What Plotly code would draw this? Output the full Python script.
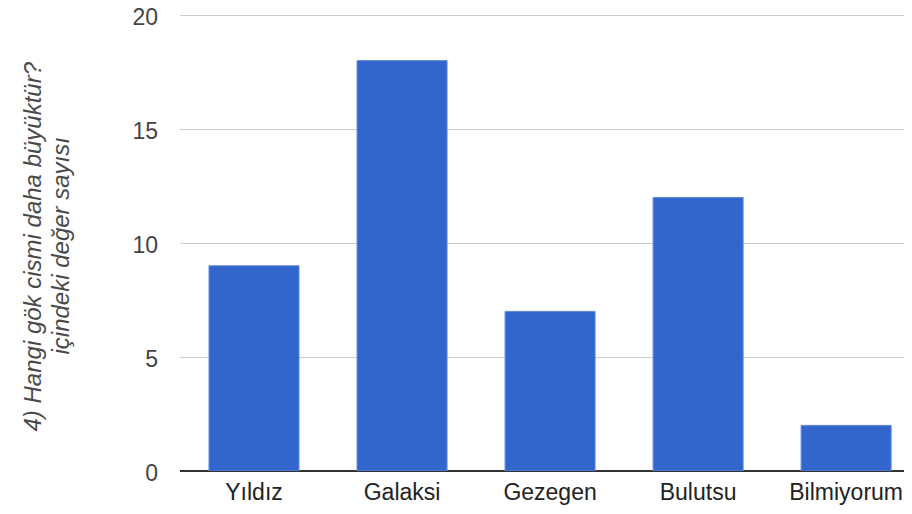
import plotly.graph_objects as go

categories = ["Yıldız", "Galaksi", "Gezegen", "Bulutsu", "Bilmiyorum"]
values = [9, 18, 7, 12, 2]
y_ticks = [0, 5, 10, 15, 20]
title_lines = ["4) Hangi gök cismi daha büyüktür?", "içindeki değer sayısı"]

fig = go.Figure()
fig.add_trace(go.Bar(
    x=categories, y=values,
    marker=dict(color="#3366cc", line=dict(color="#5f87d8", width=1)),
    width=0.608,
))

font_family = "Arial, Liberation Sans, sans-serif"
# page body has 8px margin; figure sized to fill the rest of the 912x514 window
fig.update_layout(
    width=904, height=506,
    margin=dict(l=172, r=0, t=2, b=43, autoexpand=False),
    plot_bgcolor="white", paper_bgcolor="white",
    showlegend=False,
    font=dict(family=font_family, size=23, color="#444444"),
    xaxis=dict(
        range=[-0.5, 4.445], showgrid=False, zeroline=False, automargin=False,
        showline=False, ticks="", ticklabelstandoff=5,
        tickfont=dict(size=23, color="#222222"), ticklabeloverflow="allow",
    ),
    yaxis=dict(
        range=[0, 20.22], tickvals=y_ticks, showgrid=True, gridcolor="#cccccc",
        gridwidth=1, zeroline=True, zerolinecolor="#333333", zerolinewidth=1.5,
        ticks="", ticklabelstandoff=21, ticklabelshift=2, automargin=False,
        tickfont=dict(size=23, color="#444444"), ticklabeloverflow="allow",
    ),
    annotations=[
        dict(
            text="<i>" + title_lines[0] + "</i>",
            xref="paper", yref="paper", x=0, y=0.5,
            xshift=-148, yshift=-6, xanchor="center", yanchor="middle",
            textangle=-90, showarrow=False,
            font=dict(family=font_family, size=24, color="#4a4a4a"),
        ),
        dict(
            text="<i>" + title_lines[1] + "</i>",
            xref="paper", yref="paper", x=0, y=0.5,
            xshift=-120, yshift=-6, xanchor="center", yanchor="middle",
            textangle=-90, showarrow=False,
            font=dict(family=font_family, size=24, color="#4a4a4a"),
        ),
    ],
)

fig.write_html("out.html")
